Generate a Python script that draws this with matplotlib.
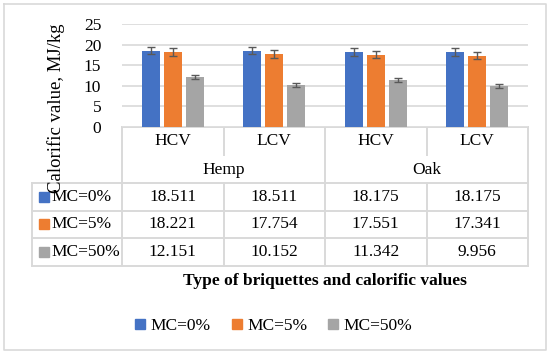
import matplotlib.pyplot as plt
from matplotlib.lines import Line2D
import numpy as np

plt.rcParams['font.family'] = ['Liberation Serif', 'DejaVu Serif']

# datos
tipos = ['HCV', 'LCV', 'HCV', 'LCV']
briquetas = ['Hemp', 'Oak']
series = ['MC=0%', 'MC=5%', 'MC=50%']
mc0 = [18.511, 18.511, 18.175, 18.175]
mc5 = [18.221, 17.754, 17.551, 17.341]
mc50 = [12.151, 10.152, 11.342, 9.956]
err0 = [0.9, 0.9, 0.95, 0.95]
err5 = [0.9, 0.9, 0.9, 0.9]
err50 = [0.5, 0.45, 0.5, 0.45]
etiquetas_tabla = ['18.511', '18.511', '18.175', '18.175',
                   '18.221', '17.754', '17.551', '17.341',
                   '12.151', '10.152', '11.342', '9.956']

colores = ['#4472C4', '#ED7D31', '#A5A5A5']
gris = '#D9D9D9'
W, H = 550, 356
fs = 12.5

fig = plt.figure(figsize=(5.5, 3.56), dpi=100)

# capa para bordes y tabla, en pixeles
capa = fig.add_axes([0, 0, 1, 1])
capa.set_xlim(0, W)
capa.set_ylim(H, 0)
capa.axis('off')

# eje de barras
x0, x1, ytop, ybot = 122, 528, 24, 127
ax = fig.add_axes([x0 / W, 1 - ybot / H, (x1 - x0) / W, (ybot - ytop) / H])
x = np.arange(len(tipos)) + 0.5
ancho = 0.173
paso = 0.217
valores = [mc0, mc5, mc50]
errores = [err0, err5, err50]
for i in range(3):
    ax.bar(x + (i - 1) * paso, valores[i], ancho, color=colores[i], zorder=3,
           yerr=errores[i], error_kw=dict(ecolor='#595959', capsize=3, elinewidth=1, capthick=1, zorder=4))
ax.set_xlim(0, 4)
ax.set_ylim(0, 25)
ax.set_yticks([0, 5, 10, 15, 20, 25])
ax.tick_params(axis='y', length=0, labelsize=fs, pad=15)
ax.set_xticks([])
ax.grid(axis='y', color=gris, linewidth=1.2, zorder=0)
for s in ['top', 'right', 'left', 'bottom']:
    ax.spines[s].set_visible(False)
ax.set_ylabel('Calorific value, MJ/kg', fontsize=13.5)
ax.yaxis.set_label_coords(-0.14, 0.18)

# borde exterior
capa.plot([4, 546, 546, 4, 4], [4, 4, 350, 350, 4], color=gris, lw=1.2)

# tabla
lw = 1.4
colx = [122, 223.5, 325, 426.5, 528]
capa.plot([122, 528], [127, 127], color=gris, lw=lw)
filas_y = [183, 210.5, 238, 265.5]
for yy in filas_y:
    capa.plot([32, 528], [yy, yy], color=gris, lw=lw)
capa.plot([32, 32], [183, 265.5], color=gris, lw=lw)
for cx in [122, 325, 528]:
    capa.plot([cx, cx], [127, 265.5], color=gris, lw=lw)
for cx in [223.5, 426.5]:
    capa.plot([cx, cx], [127, 155], color=gris, lw=lw)
    capa.plot([cx, cx], [183, 265.5], color=gris, lw=lw)

for j, t in enumerate(tipos):
    capa.text((colx[j] + colx[j + 1]) / 2, 141, t, ha='center', va='center', fontsize=fs)
for j, b in enumerate(briquetas):
    capa.text((colx[2 * j] + colx[2 * j + 2]) / 2, 170, b, ha='center', va='center', fontsize=fs)
for i, s in enumerate(series):
    yc = (filas_y[i] + filas_y[i + 1]) / 2
    capa.plot(43.5, yc, marker='s', markersize=6.5, color=colores[i], linestyle='none')
    capa.text(51, yc, s, ha='left', va='center', fontsize=fs)
    for j in range(4):
        capa.text((colx[j] + colx[j + 1]) / 2, yc, etiquetas_tabla[i * 4 + j],
                  ha='center', va='center', fontsize=fs)

capa.text(325, 281, 'Type of briquettes and calorific values', ha='center', va='center',
          fontsize=fs, fontweight='bold')

# leyenda
manijas = [Line2D([], [], marker='s', markersize=6.5, color=c, linestyle='none') for c in colores]
fig.legend(manijas, series, loc='center', bbox_to_anchor=(272 / W, 1 - 326 / H), ncol=3,
           frameon=False, fontsize=fs, handletextpad=0.1, columnspacing=1.0, handlelength=1.0)

fig.savefig('out.png', dpi=100)
